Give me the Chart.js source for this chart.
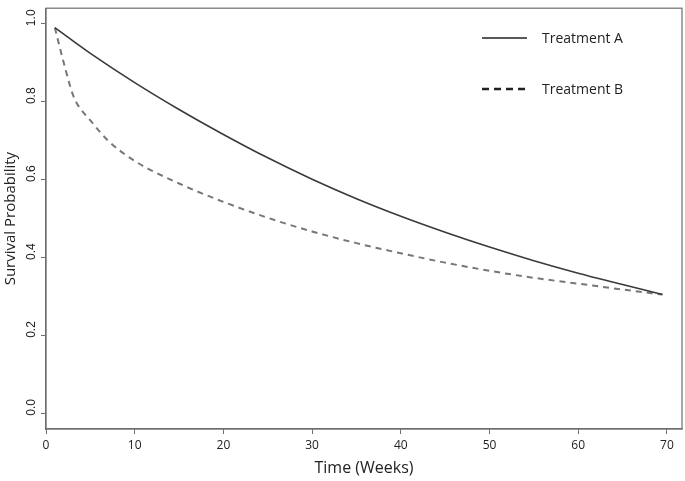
<!DOCTYPE html>
<html>
<head>
<meta charset="utf-8">
<script src="https://cdn.jsdelivr.net/npm/chart.js@4/dist/chart.umd.min.js"></script>
<style>
  html, body { margin: 0; padding: 0; background: #ffffff; }
  #wrap { width: 685px; height: 481px; }
</style>
</head>
<body>
<div id="wrap"><canvas id="c" width="685" height="481"></canvas></div>
<script>
// ---- data ----
const weeksA = [1, 5, 10, 15, 20, 25, 30, 35, 40, 45, 50, 55, 60, 65, 69.5];
const survivalA = [0.99, 0.924, 0.849, 0.780, 0.716, 0.656, 0.601, 0.551, 0.506, 0.465, 0.427, 0.392, 0.360, 0.331, 0.305];

const weeksB = [1, 2, 3, 3.5, 5, 7, 10, 15, 20, 25, 30, 35, 40, 45, 50, 55, 60, 65, 69.5];
const survivalB = [0.99, 0.90, 0.82, 0.795, 0.752, 0.700, 0.648, 0.590, 0.543, 0.502, 0.467, 0.437, 0.411, 0.387, 0.366, 0.348, 0.333, 0.318, 0.305];

const seriesLabels = ['Treatment A', 'Treatment B'];
const xTickValues = [0, 10, 20, 30, 40, 50, 60, 70];
const yTickValues = [0.0, 0.2, 0.4, 0.6, 0.8, 1.0];
const xTitle = 'Time (Weeks)';
const yTitle = 'Survival Probability';

const toPoints = (xs, ys) => xs.map((x, i) => ({ x: x, y: ys[i] }));

const boxPlugin = {
  id: 'boxAndLegend',
  afterDraw(chart) {
    const { ctx, chartArea: a } = chart;
    ctx.save();
    ctx.strokeStyle = '#6e6e6e';
    ctx.lineWidth = 1.2;
    ctx.strokeRect(a.left, a.top, a.right - a.left, a.bottom - a.top);

    // legend inside the plot, top right
    const items = chart.data.datasets;
    const lx0 = 482, lx1 = 527, tx = 542;
    const ys = [38, 89];
    ctx.font = '14px "Open Sans", sans-serif';
    ctx.textBaseline = 'middle';
    ctx.textAlign = 'left';
    items.forEach((ds, i) => {
      ctx.beginPath();
      ctx.strokeStyle = '#222';
      ctx.lineWidth = i === 0 ? 1.3 : 2.4;
      ctx.setLineDash(i === 0 ? [] : [7, 5]);
      ctx.moveTo(lx0, ys[i]);
      ctx.lineTo(lx1, ys[i]);
      ctx.stroke();
      ctx.setLineDash([]);
      ctx.fillStyle = '#222';
      ctx.fillText(ds.label, tx, ys[i] + 1);
    });
    ctx.restore();
  }
};

new Chart(document.getElementById('c'), {
  type: 'scatter',
  data: {
    datasets: [
      {
        label: seriesLabels[0],
        data: toPoints(weeksA, survivalA),
        showLine: true,
        borderColor: '#3a3a3a',
        borderWidth: 1.6,
        pointRadius: 0,
        tension: 0.4,
        fill: false
      },
      {
        label: seriesLabels[1],
        data: toPoints(weeksB, survivalB),
        showLine: true,
        borderColor: '#777777',
        borderWidth: 2,
        borderDash: [6, 5],
        pointRadius: 0,
        cubicInterpolationMode: 'monotone',
        fill: false
      }
    ]
  },
  options: {
    responsive: false,
    animation: false,
    devicePixelRatio: 1,
    layout: { padding: { top: 3, right: 3, left: 0, bottom: 0 } },
    plugins: {
      legend: { display: false },
      tooltip: { enabled: false }
    },
    scales: {
      x: {
        type: 'linear',
        min: 0,
        max: 71.7,
        afterBuildTicks: (s) => { s.ticks = xTickValues.map(v => ({ value: v })); },
        afterFit: (s) => { s.height = 52; },
        grid: { drawOnChartArea: false, drawTicks: true, tickLength: 5, color: '#6e6e6e' },
        border: { display: true, color: '#6e6e6e', width: 1.2 },
        ticks: {
          color: '#222',
          font: { family: '"Open Sans", sans-serif', size: 12 },
          padding: 4,
          maxRotation: 0,
          callback: (v) => String(v)
        },
        title: {
          display: true,
          text: xTitle,
          color: '#222',
          font: { family: '"Open Sans", sans-serif', size: 16 },
          padding: { top: 0, bottom: 3 }
        }
      },
      y: {
        type: 'linear',
        min: -0.04,
        max: 1.04,
        afterBuildTicks: (s) => { s.ticks = yTickValues.map(v => ({ value: v })); },
        afterFit: (s) => { s.width = 46; },
        grid: { drawOnChartArea: false, drawTicks: true, tickLength: 5, color: '#6e6e6e' },
        border: { display: true, color: '#6e6e6e', width: 1.2 },
        ticks: {
          color: '#222',
          font: { family: '"Liberation Sans", Arial, sans-serif', size: 12 },
          minRotation: 90,
          maxRotation: 90,
          crossAlign: 'center',
          labelOffset: -6,
          padding: 1,
          callback: (v) => Number(v).toFixed(1)
        },
        title: {
          display: true,
          text: yTitle,
          color: '#222',
          font: { family: '"Open Sans", sans-serif', size: 15 },
          padding: { top: 2, bottom: 0 }
        }
      }
    }
  },
  plugins: [boxPlugin]
});
</script>
</body>
</html>
